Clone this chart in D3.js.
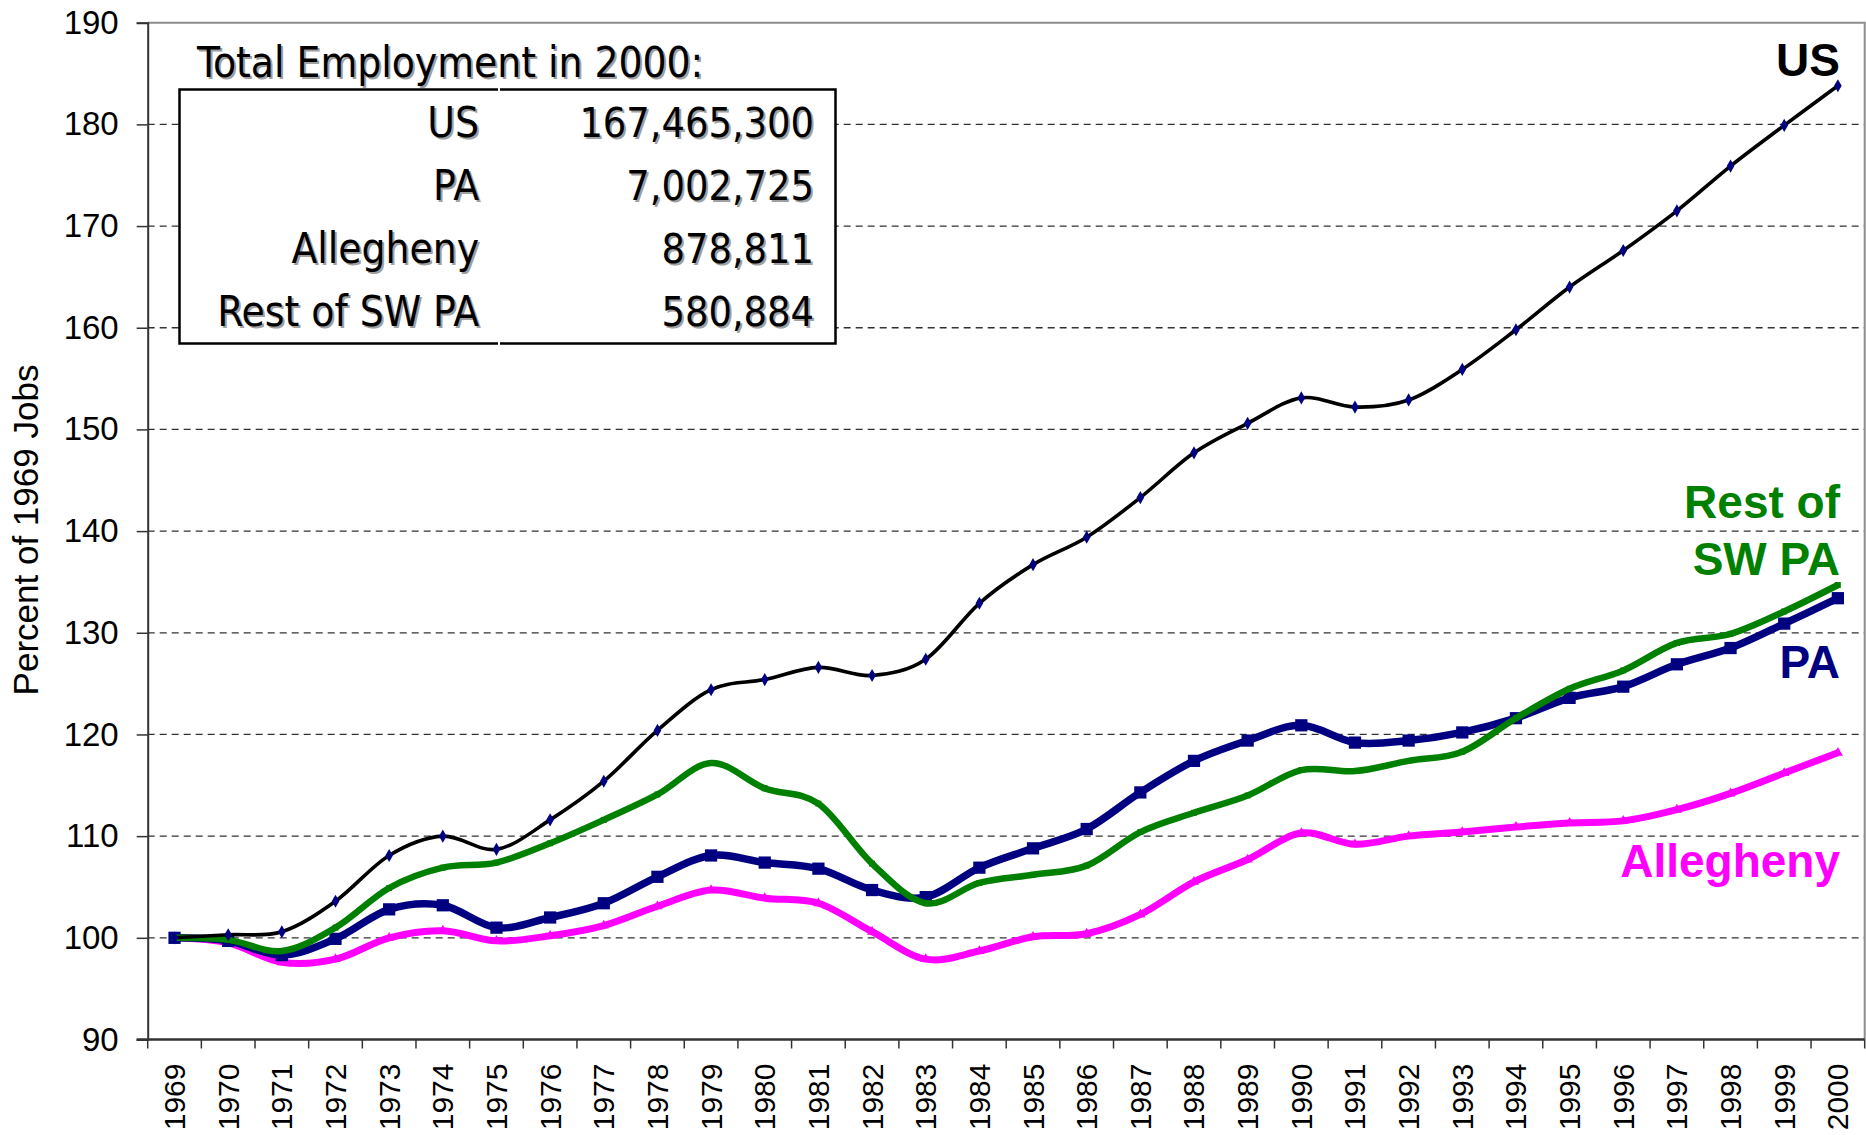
<!DOCTYPE html>
<html>
<head>
<meta charset="utf-8">
<script src="https://cdn.jsdelivr.net/npm/d3@7"></script>
<style>
  body { margin: 0; background: #fff; }
  svg { display: block; font-family: Arial, "Liberation Sans", sans-serif; }
</style>
</head>
<body>
<svg width="1866" height="1135"></svg>
<script>
const years = d3.range(1969, 2001).map(String);

const usVals = [100, 100.3, 100.6, 103.6, 108.1, 110.0, 108.7, 111.6, 115.4, 120.4, 124.4, 125.4, 126.6, 125.8, 127.4, 132.9,
  136.7, 139.4, 143.3, 147.7, 150.6, 153.1, 152.2, 152.9, 155.9, 159.8, 164.0, 167.6, 171.5, 175.9, 179.9, 183.8];
const paVals = [100, 99.7, 98.3, 99.9, 102.8, 103.2, 101.0, 102.0, 103.4, 106.0, 108.1, 107.4, 106.8, 104.7, 104.0, 106.9,
  108.8, 110.7, 114.3, 117.4, 119.4, 120.9, 119.2, 119.4, 120.2, 121.6, 123.6, 124.7, 126.9, 128.5, 130.9, 133.4];
const restVals = [100, 99.8, 98.7, 101.0, 104.9, 106.9, 107.4, 109.3, 111.6, 114.1, 117.2, 114.7, 113.2, 107.3, 103.4, 105.4,
  106.2, 107.1, 110.4, 112.3, 114.0, 116.5, 116.4, 117.4, 118.3, 121.6, 124.5, 126.3, 129.0, 129.9, 132.1, 134.7];
const alleghenyVals = [100, 99.5, 97.6, 97.9, 100.0, 100.7, 99.7, 100.2, 101.2, 103.1, 104.7, 103.9, 103.4, 100.6, 97.9, 98.7,
  100.1, 100.4, 102.3, 105.5, 107.7, 110.3, 109.2, 110.0, 110.4, 110.9, 111.3, 111.5, 112.6, 114.2, 116.2, 118.2];

const yTicks = [90, 100, 110, 120, 130, 140, 150, 160, 170, 180, 190];

const tableTitle = "Total Employment in 2000:";
const tableLabels = ["US", "PA", "Allegheny", "Rest of SW PA"];
const tableValues = ["167,465,300", "7,002,725", "878,811", "580,884"];

const svg = d3.select("svg");
const margin = { top: 22.7, right: 1.3, bottom: 95.5, left: 147.7 };
const width = +svg.attr("width") - margin.left - margin.right;
const height = +svg.attr("height") - margin.top - margin.bottom;
const chart = svg.append("g").attr("transform", `translate(${margin.left},${margin.top})`);

const x = d3.scaleBand().domain(years).range([0, width]);
const y = d3.scaleLinear().domain([90, 190]).range([height, 0]);
const cx = d => x(d) + x.bandwidth() / 2;

// grid
chart.append("g")
  .selectAll("line")
  .data(yTicks.filter(t => t > 90 && t < 190))
  .enter().append("line")
  .attr("x1", 0).attr("x2", width)
  .attr("y1", d => y(d)).attr("y2", d => y(d))
  .attr("stroke", "#333").attr("stroke-width", 1.3)
  .attr("stroke-dasharray", "7,5");

// plot frame (top and right)
chart.append("path")
  .attr("d", `M0,0H${width}V${height}`)
  .attr("fill", "none").attr("stroke", "#8c8c8c").attr("stroke-width", 2);

// Y axis
const yAxis = chart.append("g")
  .call(d3.axisLeft(y).tickValues(yTicks).tickSize(11).tickPadding(18));
yAxis.select(".domain").attr("stroke", "#333").attr("stroke-width", 2);
yAxis.selectAll(".tick line").attr("stroke", "#333").attr("stroke-width", 1.5);
yAxis.selectAll("text").attr("font-size", 33).attr("fill", "#000")
  .attr("font-family", "Arial, 'Liberation Sans', sans-serif");

// X axis
const xAxis = chart.append("g")
  .attr("transform", `translate(0,${height})`)
  .call(d3.axisBottom(x).tickSize(0).tickFormat(""));
xAxis.select(".domain").attr("stroke", "#333").attr("stroke-width", 2.5)
  .attr("d", `M-11,0H${width}`);
chart.append("g")
  .selectAll("line")
  .data(years.concat(["end"]))
  .enter().append("line")
  .attr("x1", (d, i) => i * x.bandwidth()).attr("x2", (d, i) => i * x.bandwidth())
  .attr("y1", height).attr("y2", height + 9)
  .attr("stroke", "#333").attr("stroke-width", 1.5);
chart.append("g")
  .selectAll("text")
  .data(years)
  .enter().append("text")
  .attr("transform", d => `translate(${cx(d) + 10.5},${height + 24}) rotate(-90)`)
  .attr("text-anchor", "end")
  .attr("font-size", 30)
  .text(d => d);

// Axis title
svg.append("text")
  .attr("transform", `translate(38,530) rotate(-90)`)
  .attr("text-anchor", "middle")
  .attr("font-size", 35)
  .text("Percent of 1969 Jobs");

// Lines
const series = [
  { name: "Allegheny", values: alleghenyVals, color: "#ff00ff", w: 7, marker: "triangle", ms: 45 },
  { name: "PA", values: paVals, color: "#000080", w: 7.5, marker: "square", ms: 150 },
  { name: "Rest of SW PA", values: restVals, color: "#008000", w: 6.5, marker: "square", ms: 35 },
  { name: "US", values: usVals, color: "#000", w: 3.6, marker: "diamond", ms: 50, mcolor: "#000080" }
];

const line = d3.line()
  .x((d, i) => cx(years[i]))
  .y(d => y(d))
  .curve(d3.curveCardinal);

const symbols = { triangle: d3.symbolTriangle, square: d3.symbolSquare, diamond: d3.symbolDiamond };

series.forEach(s => {
  chart.append("path")
    .datum(s.values)
    .attr("d", line)
    .attr("fill", "none")
    .attr("stroke", s.color)
    .attr("stroke-width", s.w)
    .attr("stroke-linejoin", "round");

  chart.append("g")
    .selectAll("path")
    .data(s.values)
    .enter().append("path")
    .attr("transform", (d, i) => `translate(${cx(years[i])},${y(d)})`)
    .attr("d", d3.symbol().type(symbols[s.marker]).size(s.ms))
    .attr("fill", s.mcolor || s.color);
});

// Series labels
const labels = [
  { lines: ["US"], color: "#000", y: 76 },
  { lines: ["Rest of", "SW PA"], color: "#008000", y: 518 },
  { lines: ["PA"], color: "#000080", y: 678 },
  { lines: ["Allegheny"], color: "#ff00ff", y: 877 }
];
labels.forEach(l => {
  l.lines.forEach((t, i) => {
    svg.append("text")
      .attr("x", 1840)
      .attr("y", l.y + i * 57)
      .attr("text-anchor", "end")
      .attr("font-size", 46)
      .attr("font-weight", "bold")
      .attr("fill", l.color)
      .text(t);
  });
});

// Inset table
const inset = svg.append("g")
  .style("font-family", "'DejaVu Sans Condensed', 'DejaVu Sans', Verdana, sans-serif")
  .style("font-stretch", "condensed");

inset.append("rect")
  .attr("x", 179.5).attr("y", 89.5)
  .attr("width", 656).attr("height", 254)
  .attr("fill", "#fff").attr("stroke", "#000").attr("stroke-width", 2.5);
inset.append("line")
  .attr("x1", 499).attr("x2", 499).attr("y1", 87).attr("y2", 346)
  .attr("stroke", "#fff").attr("stroke-width", 2);

function shadowText(g, xPos, yPos, txt, size, anchor) {
  g.append("text").attr("x", xPos + 2).attr("y", yPos + 2)
    .attr("font-size", size).attr("text-anchor", anchor)
    .attr("fill", "#a0a0a0").text(txt);
  g.append("text").attr("x", xPos).attr("y", yPos)
    .attr("font-size", size).attr("text-anchor", anchor)
    .attr("fill", "#000").text(txt);
}

shadowText(inset, 197, 77, tableTitle, 42, "start");
tableLabels.forEach((lab, i) => {
  const by = 137 + i * 63;
  shadowText(inset, 479, by, lab, 42, "end");
  shadowText(inset, 814, by, tableValues[i], 41, "end");
});
</script>
</body>
</html>
